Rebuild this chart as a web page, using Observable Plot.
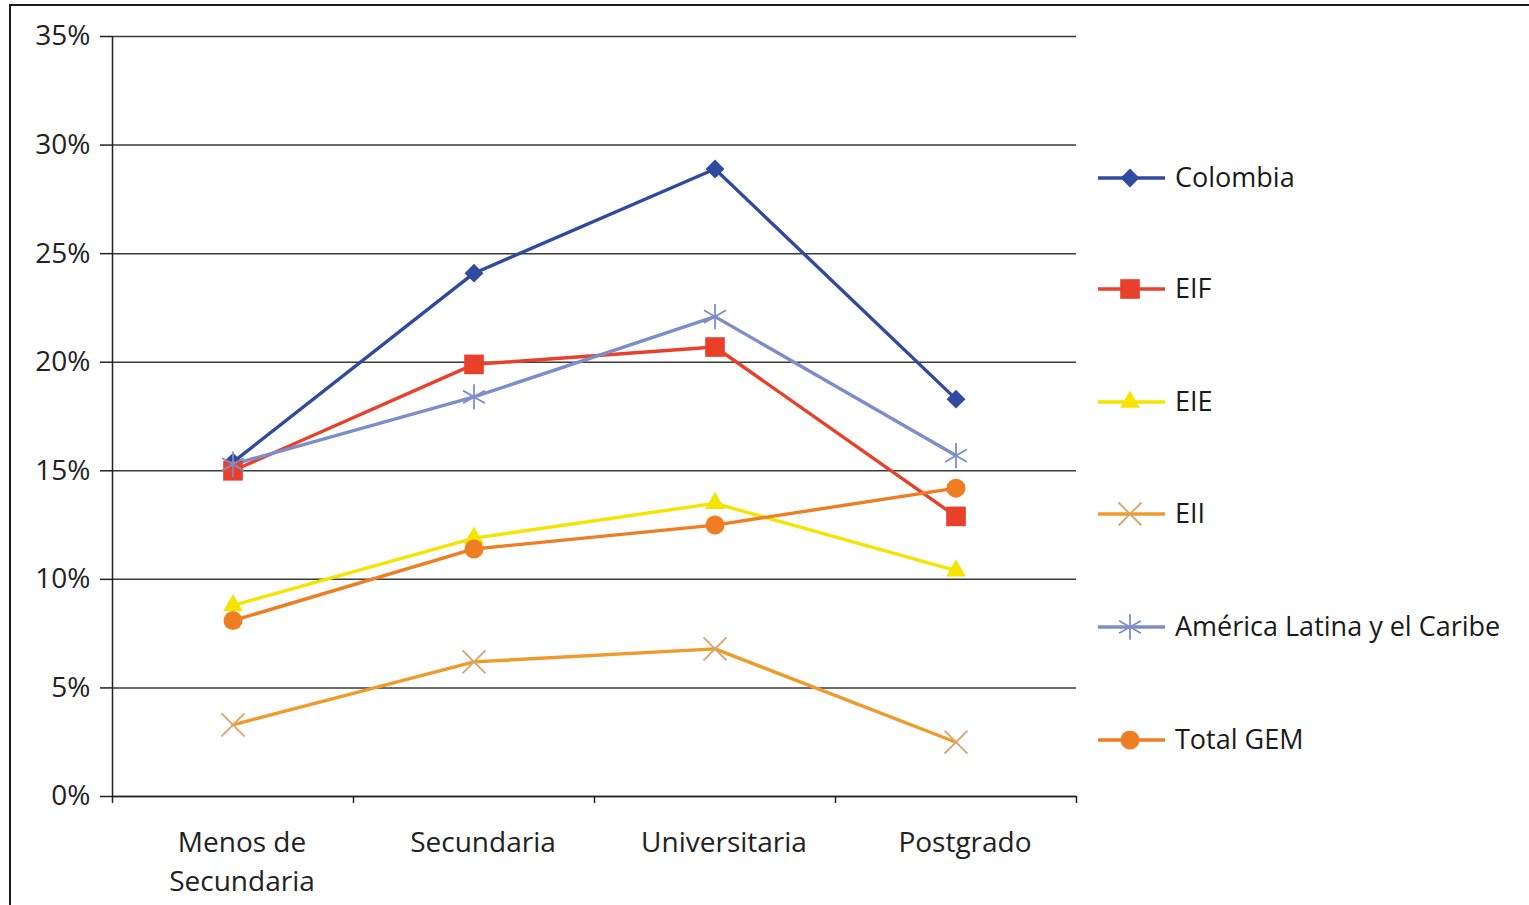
<!DOCTYPE html>
<html><head><meta charset="utf-8">
<script src="https://cdn.jsdelivr.net/npm/d3@7"></script>
<script src="https://cdn.jsdelivr.net/npm/@observablehq/plot@0.6"></script>
<style>
html,body{margin:0;padding:0;background:#fff;}
body{overflow:hidden;width:1529px;height:905px;position:relative;font-family:"Open Sans",sans-serif;}
#frame{position:absolute;left:9px;top:4px;width:1700px;height:1100px;border:2px solid #1a1a1a;box-sizing:border-box;}
#chart{position:absolute;left:0;top:0;}
#legend{position:absolute;left:1098px;top:0;}
</style></head><body>
<div id="frame"></div>
<div id="chart"></div>
<div id="legend"></div>
<script>
const categories = ["Menos de\nSecundaria", "Secundaria", "Universitaria", "Postgrado"];
const seriesNames = ["Colombia", "EIF", "EIE", "EII", "América Latina y el Caribe", "Total GEM"];
const colombia = [15.4, 24.1, 28.9, 18.3];
const eif      = [15.0, 19.9, 20.7, 12.9];
const eie      = [8.8, 11.9, 13.5, 10.4];
const eii      = [3.3, 6.2, 6.8, 2.5];
const alc      = [15.3, 18.4, 22.1, 15.7];
const totalGem = [8.1, 11.4, 12.5, 14.2];
const yTicks = [0, 5, 10, 15, 20, 25, 30, 35];

const seriesValues = [colombia, eif, eie, eii, alc, totalGem];
const lineColors = ["#2f4a9e", "#e8402a", "#f4e400", "#f09a2c", "#7d8dca", "#ef7d22"];
const markColors = ["#2f4a9e", "#e8402a", "#f4e400", "#d6a66a", "#7d8dca", "#ef7d22"];
const symbols = ["diamond2", "square2", "triangle2", "times", "asterisk", "circle"];
const radii = [8.5, 12.5, 9.5, 10.5, 12, 9.5];
const strokeOnly = [false, false, false, true, true, false];

const rows = [];
seriesNames.forEach((s, k) => seriesValues[k].forEach((v, i) => rows.push({series: s, k, i, value: v})));

const marks = [
  Plot.gridY(yTicks, {stroke: "#3a3a3a", strokeOpacity: 1, strokeWidth: 1.5}),
  Plot.axisY({ticks: yTicks, tickFormat: d => d + "%", tickSize: 12, tickPadding: 10, stroke: "#222", fill: "#222", strokeWidth: 1.5, label: null}),
  Plot.axisX({ticks: [-0.5, 0.5, 1.5, 2.5, 3.5], tickFormat: () => "", tickSize: 7, stroke: "#222", strokeWidth: 1.5, label: null}),
  Plot.ruleX([-0.5], {stroke: "#222", strokeWidth: 1.5}),
  Plot.ruleY([0], {stroke: "#222", strokeWidth: 1.5}),
  Plot.text(categories.map((c, i) => ({c, i})), {x: "i", text: "c", frameAnchor: "bottom", dy: 28, dx: 9, lineAnchor: "top", lineHeight: 1.38, fill: "#222", fontSize: 28})
];
seriesNames.forEach((s, k) => {
  const data = rows.filter(r => r.k === k);
  marks.push(Plot.line(data, {x: "i", y: "value", stroke: lineColors[k], strokeWidth: 3.4}));
});
seriesNames.forEach((s, k) => {
  const data = rows.filter(r => r.k === k);
  marks.push(Plot.dot(data, strokeOnly[k]
    ? {x: "i", y: "value", symbol: symbols[k], r: radii[k], stroke: markColors[k], strokeWidth: 1.8, fill: "none"}
    : {x: "i", y: "value", symbol: symbols[k], r: radii[k], fill: markColors[k], stroke: "none"}));
});

const chart = Plot.plot({
  width: 1529, height: 905,
  marginLeft: 112, marginRight: 453, marginTop: 36, marginBottom: 109,
  style: {fontFamily: "Open Sans, sans-serif", fontSize: "28px", color: "#222", background: "transparent"},
  x: {type: "linear", domain: [-0.5, 3.5], axis: null},
  y: {domain: [0, 35], axis: null},
  marks
});
document.getElementById("chart").appendChild(chart);

// Legend
const legendY = [178, 289, 402, 514, 627, 740];
const svg = d3.select("#legend").append("svg").attr("width", 431).attr("height", 905)
  .style("font-family", "Open Sans, sans-serif");
const symMap = {diamond2: d3.symbolDiamond2, square2: d3.symbolSquare2, triangle2: d3.symbolTriangle2, times: d3.symbolTimes, asterisk: d3.symbolAsterisk, circle: d3.symbolCircle};
seriesNames.forEach((s, k) => {
  const g = svg.append("g").attr("transform", `translate(0,${legendY[k]})`);
  g.append("line").attr("x1", 0).attr("x2", 67).attr("y1", 0).attr("y2", 0).attr("stroke", lineColors[k]).attr("stroke-width", 3.4);
  const p = g.append("path").attr("transform", "translate(32,0)")
    .attr("d", d3.symbol(symMap[symbols[k]], Math.PI * radii[k] * radii[k])());
  if (strokeOnly[k]) p.attr("fill", "none").attr("stroke", markColors[k]).attr("stroke-width", 1.8);
  else p.attr("fill", markColors[k]);
  g.append("text").attr("x", 77).attr("y", 0).attr("dy", "0.35em").attr("font-size", 27).attr("fill", "#1a1a1a").text(s);
});
</script>
</body></html>
